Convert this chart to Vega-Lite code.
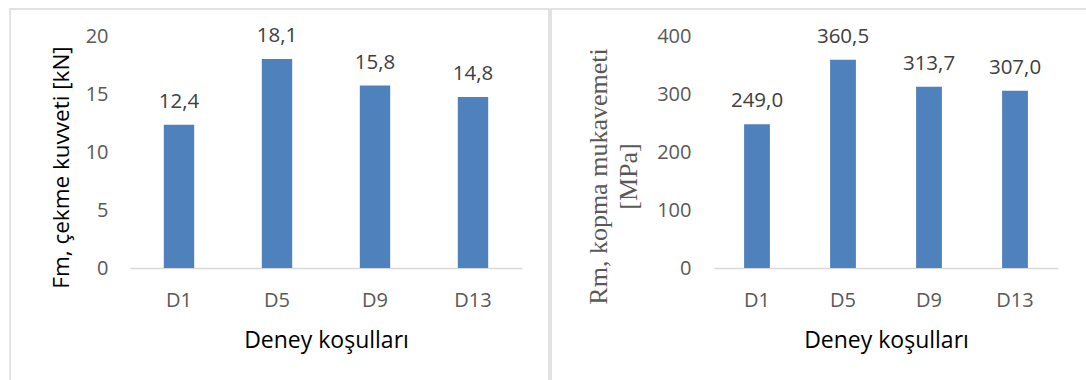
{
  "$schema": "https://vega.github.io/schema/vega-lite/v6.json",
  "background": "white",
  "padding": {"left": 9, "top": 8, "right": 0, "bottom": 0},
  "spacing": 0,
  "data": {
    "values": [
      {"kosul": "D1", "Fm": 12.4, "Rm": 249.0},
      {"kosul": "D5", "Fm": 18.1, "Rm": 360.5},
      {"kosul": "D9", "Fm": 15.8, "Rm": 313.7},
      {"kosul": "D13", "Fm": 14.8, "Rm": 307.0}
    ]
  },
  "hconcat": [
    {
      "width": 539,
      "height": 373,
      "encoding": {
        "x": {
          "field": "kosul",
          "type": "nominal",
          "sort": ["D1", "D5", "D9", "D13"],
          "scale": {"range": [120, 512], "paddingInner": 0.69, "paddingOuter": 0.345},
          "axis": {
            "title": "Deney koşulları",
            "offset": -114,
            "labelPadding": 22,
            "titleY": 79,
            "titleBaseline": "alphabetic"
          }
        },
        "y": {
          "field": "Fm",
          "type": "quantitative",
          "scale": {"domain": [-9.87, 22.424], "nice": false, "zero": false},
          "axis": {
            "title": "Fm, çekme kuvveti [kN]",
            "values": [0, 5, 10, 15, 20],
            "format": "d",
            "offset": -102,
            "labelPadding": 4,
            "titleX": -44,
            "titleY": 158,
            "titleAngle": -90,
            "titleAlign": "center",
            "titleBaseline": "alphabetic",
            "titleFontSize": 22.5
          }
        }
      },
      "layer": [
        {"mark": {"type": "bar", "color": "#4F81BD"}, "encoding": {"y2": {"datum": 0}}},
        {
          "mark": {"type": "text", "baseline": "alphabetic", "dy": -17, "fontSize": 20.5, "color": "#404040"},
          "encoding": {"text": {"field": "Fm", "type": "quantitative", "format": ".1f"}}
        }
      ]
    },
    {
      "width": 536,
      "height": 373,
      "encoding": {
        "x": {
          "field": "kosul",
          "type": "nominal",
          "sort": ["D1", "D5", "D9", "D13"],
          "scale": {"range": [163, 507], "paddingInner": 0.7, "paddingOuter": 0.35},
          "axis": {
            "title": "Deney koşulları",
            "offset": -114,
            "labelPadding": 22,
            "titleY": 79,
            "titleBaseline": "alphabetic"
          }
        },
        "y": {
          "field": "Rm",
          "type": "quantitative",
          "scale": {"domain": [-197.4, 448.48], "nice": false, "zero": false},
          "axis": {
            "title": ["Rm, kopma mukavemeti", "[MPa]"],
            "values": [0, 100, 200, 300, 400],
            "format": "d",
            "offset": -144,
            "labelPadding": 4,
            "titleX": -89,
            "titleY": 167,
            "titleAngle": -90,
            "titleAlign": "center",
            "titleBaseline": "alphabetic",
            "titleFont": "Liberation Serif",
            "titleFontSize": 26,
            "titleFontWeight": "normal",
            "titleColor": "#595959",
            "titleLineHeight": 30
          }
        }
      },
      "layer": [
        {"mark": {"type": "bar", "color": "#4F81BD"}, "encoding": {"y2": {"datum": 0}}},
        {
          "mark": {"type": "text", "baseline": "alphabetic", "dy": -17, "fontSize": 20.5, "color": "#404040"},
          "encoding": {"text": {"field": "Rm", "type": "quantitative", "format": ".1f"}}
        }
      ]
    }
  ],
  "config": {
    "font": "Open Sans",
    "locale": {
      "number": {"decimal": ",", "thousands": ".", "grouping": [3], "currency": ["", ""]}
    },
    "view": {"stroke": "#D9D9D9", "strokeWidth": 1.5},
    "axis": {
      "grid": false,
      "ticks": false,
      "labelFont": "Open Sans",
      "labelFontSize": 20,
      "labelColor": "#595959",
      "titleFont": "Open Sans",
      "titleFontSize": 23,
      "titleFontWeight": "normal",
      "titleColor": "#000000"
    },
    "axisX": {"labelAngle": 0, "domainColor": "#D9D9D9", "domainWidth": 1.5},
    "axisY": {"domain": false}
  }
}
